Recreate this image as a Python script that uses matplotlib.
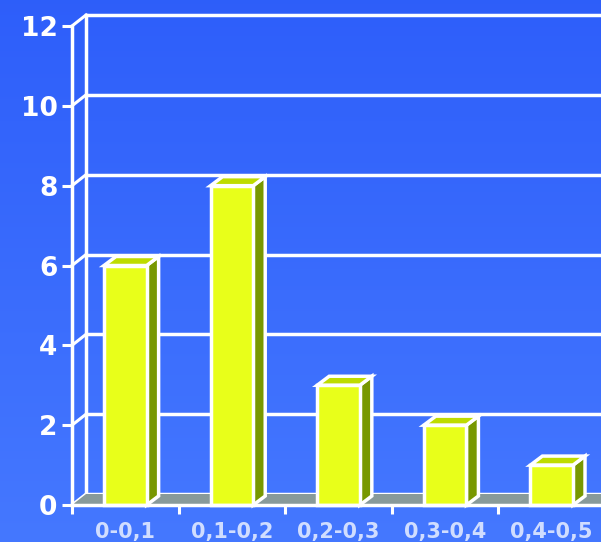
import numpy as np
import matplotlib.pyplot as plt
from matplotlib.patches import Polygon, Rectangle

# данные
categories = ['0-0,1', '0,1-0,2', '0,2-0,3', '0,3-0,4', '0,4-0,5']
values = [6, 8, 3, 2, 1]
yticks = [0, 2, 4, 6, 8, 10, 12]

W, H = 601, 542
fig = plt.figure(figsize=(W / 100, H / 100), dpi=100)

# фон - градиент
bg = fig.add_axes([0, 0, 1, 1])
grad = np.linspace(0, 1, 256).reshape(-1, 1)
c_top = np.array([0.18, 0.37, 0.98])
c_bot = np.array([0.27, 0.47, 1.0])
img = c_top + (c_bot - c_top) * grad[:, :, None]
bg.imshow(img, aspect='auto', extent=[0, 1, 0, 1], origin='upper')
bg.axis('off')

ax = fig.add_axes([72 / W, (H - 505) / H, 533 / W, 479 / H])
ax.patch.set_alpha(0)
ax.set_xlim(0, 5)
ax.set_ylim(0, 12)

# глубина в пикселях -> в единицы данных
def px2data(dx, dy):
    inv = ax.transData.inverted()
    p0 = inv.transform(ax.transData.transform((0, 0)))
    p1 = inv.transform(ax.transData.transform((0, 0)) + np.array([dx, dy]))
    return p1 - p0

wdx, wdy = px2data(14, 11)
bdx, bdy = px2data(12, 9)

white = 'white'
# задняя стенка
for t in yticks:
    ax.plot([wdx, 5 + wdx], [t + wdy, t + wdy], color=white, lw=2.5, zorder=1,
            solid_capstyle='butt', clip_on=False)
    ax.plot([0, wdx], [t, t + wdy], color=white, lw=2.2, zorder=1, clip_on=False)
ax.plot([wdx, wdx], [wdy, 12 + wdy], color=white, lw=2.5, zorder=1, clip_on=False)

# пол
floor = Polygon([(0, 0), (5, 0), (5 + wdx, wdy), (wdx, wdy)], closed=True,
                facecolor='#889a9a', edgecolor='none', zorder=2, clip_on=False)
ax.add_patch(floor)

# столбики
bw = 0.4
for i, v in enumerate(values):
    x0 = i + 0.5 - bw / 2
    x1 = x0 + bw
    side = Polygon([(x1, 0), (x1 + bdx, bdy), (x1 + bdx, v + bdy), (x1, v)],
                   closed=True, facecolor='#789800', edgecolor=white, lw=2.5,
                   joinstyle='miter', zorder=3, clip_on=False)
    top = Polygon([(x0, v), (x1, v), (x1 + bdx, v + bdy), (x0 + bdx, v + bdy)],
                  closed=True, facecolor='#bedc00', edgecolor=white, lw=2.5,
                  joinstyle='miter', zorder=3, clip_on=False)
    front = Rectangle((x0, 0), bw, v, facecolor='#e8ff1a', edgecolor=white,
                      lw=2.5, joinstyle='miter', zorder=4, clip_on=False)
    ax.add_patch(side)
    ax.add_patch(top)
    ax.add_patch(front)

# оси
for s in ['top', 'right']:
    ax.spines[s].set_visible(False)
for s in ['left', 'bottom']:
    ax.spines[s].set_color(white)
    ax.spines[s].set_linewidth(2.5)
    ax.spines[s].set_zorder(5)

ax.set_yticks(yticks)
ax.set_yticklabels([str(t) for t in yticks])
ax.tick_params(axis='y', colors=white, length=7.5, width=2.2, pad=3,
               labelsize=19)
for lab in ax.get_yticklabels():
    lab.set_fontfamily('DejaVu Sans')
    lab.set_fontweight('bold')

ax.set_xticks(range(6))
ax.set_xticklabels([])
ax.tick_params(axis='x', which='major', colors=white, length=6.5, width=2.2)
ax.set_xticks(np.arange(5) + 0.5, minor=True)
ax.set_xticklabels(categories, minor=True)
ax.tick_params(axis='x', which='minor', length=0, pad=12.5, labelsize=15,
               labelcolor='#d0ddff')
for lab in ax.get_xticklabels(minor=True):
    lab.set_fontfamily('DejaVu Sans')
    lab.set_fontweight('bold')

fig.savefig('out.png', dpi=100)
